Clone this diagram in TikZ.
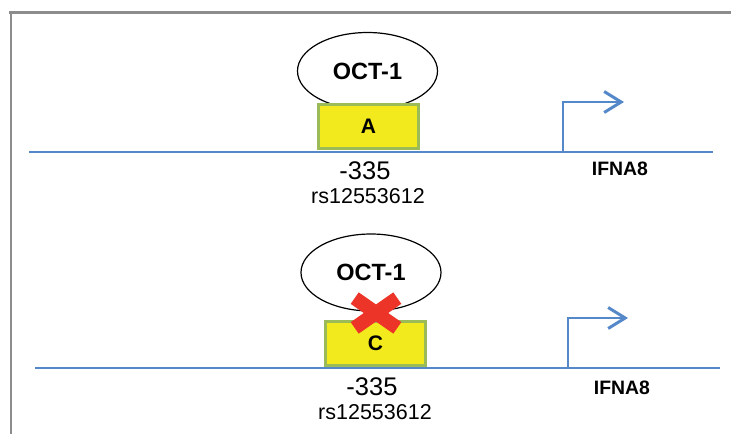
\documentclass[tikz,border=0pt]{standalone}
\usepackage{fontspec}
\setmainfont{Liberation Sans}
\usetikzlibrary{shapes.geometric,arrows.meta}
\definecolor{dnablue}{RGB}{84,136,200}
\definecolor{framegray}{RGB}{140,140,140}
\definecolor{boxgreen}{RGB}{155,187,89}
\definecolor{boxyellow}{RGB}{242,234,28}
\definecolor{xred}{RGB}{236,52,40}
\tikzset{
  dna/.style={draw=dnablue,line width=2pt},
  promoter/.style={draw=dnablue,line width=2.2pt,-{Straight Barb[length=17pt,width=21pt,line width=3pt]}},
  factor/.style={ellipse,draw=black,line width=1.2pt,fill=white,minimum width=140pt,minimum height=77pt,inner sep=0pt,font=\bfseries\fontsize{23.5}{27}\selectfont},
  site/.style={rectangle,draw=boxgreen,line width=3pt,fill=boxyellow,minimum width=100pt,minimum height=44pt,inner sep=0pt,font=\bfseries\fontsize{21}{25}\selectfont},
  poslabel/.style={font=\fontsize{25.5}{29}\selectfont,inner sep=0pt},
  snplabel/.style={font=\fontsize{21.5}{25}\selectfont,inner sep=0pt},
  genelabel/.style={font=\bfseries\fontsize{19.4}{23}\selectfont,inner sep=0pt},
  crossbar/.style={draw=xred,line width=14pt},
  frameline/.style={draw=framegray,line width=2.6pt}
}
\begin{document}
\begin{tikzpicture}[x=1pt,y=-1pt]
\useasboundingbox (0,0) rectangle (731,434);
% frame
\coordinate (fa) at (9,12.5);
\coordinate (fb) at (731,12.5);
\coordinate (fc) at (10.8,11.2);
\coordinate (fd) at (10.8,434);
\draw[frameline] (fa) -- (fb);
\draw[frameline] (fc) -- (fd);

% ---------- top panel ----------
\coordinate (l1a) at (29,151.5);
\coordinate (l1b) at (713,151.5);
\draw[dna] (l1a) -- (l1b);
\node[factor] (e1) at (367.5,71) {OCT-1};
\node[site] (b1) at (368.5,126.5) {A};
\node[poslabel] (p1) at (365,171) {-335};
\node[snplabel] (s1) at (368,196) {rs12553612};
\coordinate (t1a) at (563,151.5);
\coordinate (t1b) at (624,102);
\draw[promoter] (t1a) |- (t1b);
\node[genelabel] (g1) at (620,169) {IFNA8};

% ---------- bottom panel ----------
\coordinate (l2a) at (35,367.5);
\coordinate (l2b) at (720,367.5);
\draw[dna] (l2a) -- (l2b);
\node[factor] (e2) at (371,272.5) {OCT-1};
\node[site] (b2) at (375.5,343.5) {C};
\node[poslabel] (p2) at (372,387) {-335};
\node[snplabel] (s2) at (375,412) {rs12553612};
\coordinate (t2a) at (568,367.5);
\coordinate (t2b) at (628,318);
\draw[promoter] (t2a) |- (t2b);
\node[genelabel] (g2) at (622,388) {IFNA8};

% red cross
\coordinate (x1) at (354.7,298.1);
\coordinate (x2) at (397.3,327.9);
\coordinate (x3) at (354.7,327.9);
\coordinate (x4) at (397.3,298.1);
\draw[crossbar] (x1) -- (x2);
\draw[crossbar] (x3) -- (x4);
\end{tikzpicture}
\end{document}
